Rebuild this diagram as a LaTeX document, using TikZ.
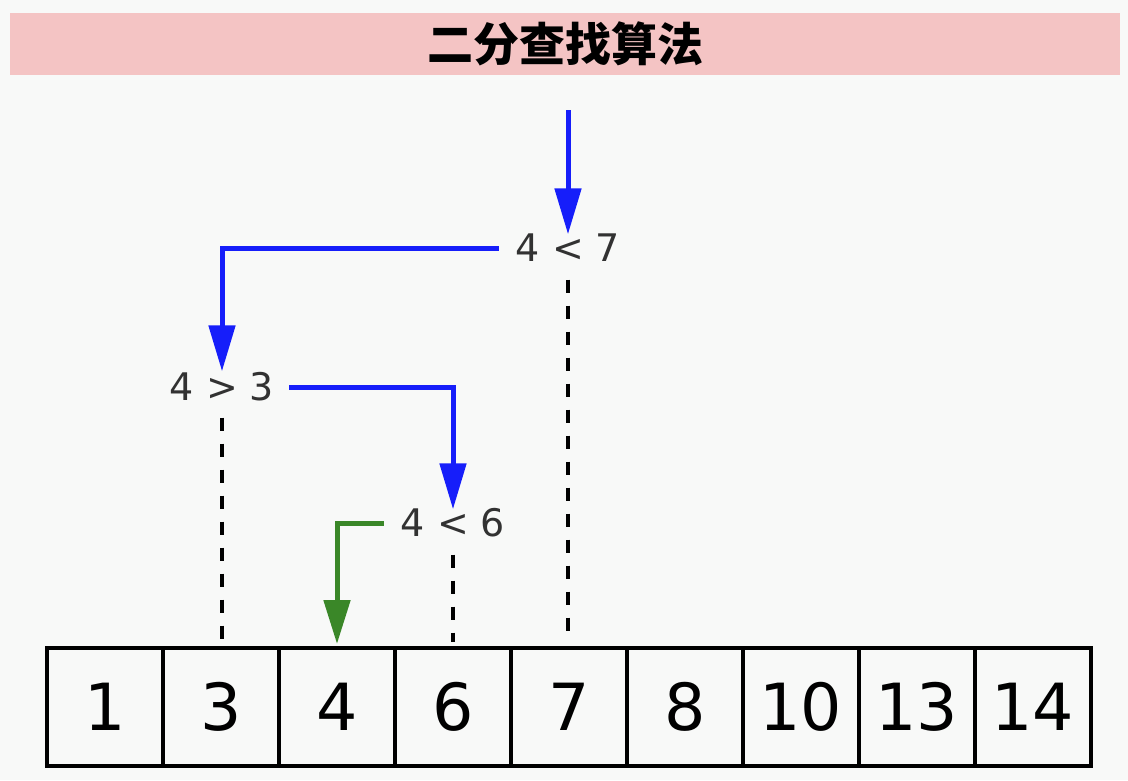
\documentclass[tikz,border=0pt]{standalone}
\usepackage{fontspec}
\setmainfont{DejaVu Sans}
\newfontfamily\cjk{Noto Sans CJK SC}
\usetikzlibrary{arrows.meta,calc}
\definecolor{bgc}{RGB}{248,249,248}
\definecolor{titlepink}{RGB}{244,196,196}
\definecolor{arrblue}{RGB}{22,30,250}
\definecolor{arrgreen}{RGB}{58,135,40}
\definecolor{txtgray}{RGB}{50,50,50}
\tikzset{
  cell/.style={draw=black, line width=4pt, minimum width=116pt, minimum height=118pt, inner sep=0pt,
    font=\fontsize{65}{65}\selectfont},
  cmp/.style={inner sep=0pt, text height=27pt, text depth=0pt, text=txtgray,
    font=\fontsize{38}{38}\selectfont},
  bluearrow/.style={draw=arrblue, line width=5pt, -{Triangle[width=26pt,length=46pt]}},
  greenarrow/.style={draw=arrgreen, line width=5pt, -{Triangle[width=26pt,length=44pt]}},
  dashline/.style={draw=black, line width=4.5pt, dash pattern=on 13pt off 13pt},
  titlebar/.style={fill=titlepink, minimum width=1110pt, minimum height=62pt, inner sep=0pt,
    font=\cjk\bfseries\fontsize{46}{46}\selectfont}
}
\begin{document}
\begin{tikzpicture}[x=1pt,y=-1pt]
\fill[bgc] (0,0) rectangle (1128,780);
\useasboundingbox (0,0) rectangle (1128,780);
\node[titlebar] (title) at (565,44) {二分查找算法};
% array
\node[cell] (c1) at (105,707) {1};
\node[cell] (c2) at (221,707) {3};
\node[cell] (c3) at (337,707) {4};
\node[cell] (c4) at (453,707) {6};
\node[cell] (c5) at (569,707) {7};
\node[cell] (c6) at (685,707) {8};
\node[cell] (c7) at (801,707) {10};
\node[cell] (c8) at (917,707) {13};
\node[cell] (c9) at (1033,707) {14};
% comparisons
\node[cmp] (k7) at (568,248) {4 < 7};
\node[cmp] (k3) at (222,387) {4 > 3};
\node[cmp] (k6) at (453,523) {4 < 6};
\coordinate (start) at (568,110);
% arrows
\draw[bluearrow] (start) -- (k7.north);
\draw[bluearrow] ($(k7.west)+(-17,0)$) -| ($(k3.north)+(0,-2)$);
\draw[bluearrow] ($(k3.east)+(15,0)$) -| (k6.north);
\draw[greenarrow] ($(k6.west)+(-17,0)$) -| ($(c3.north)+(0,-2)$);
% dashed guides
\draw[dashline] ($(k7.south)+(0,18)$) -- ($(c5.north)+(-1,-4)$);
\draw[dashline] ($(k3.south)+(0,17)$) -- ($(c2.north)+(1,-2)$);
\draw[dashline] ($(k6.south)+(0,18)$) -- ($(c4.north)+(0,-4)$);
\end{tikzpicture}
\end{document}
